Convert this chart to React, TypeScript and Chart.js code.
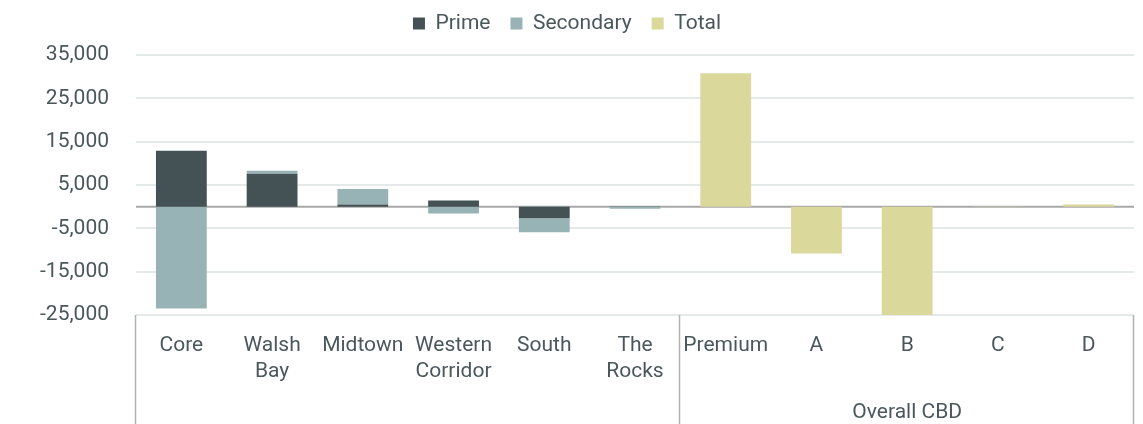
import React, { useEffect, useRef } from "react";
import { Chart, registerables } from "chart.js";

Chart.register(...registerables);

const categories: (string | string[])[] = [
  "Core",
  ["Walsh", "Bay"],
  "Midtown",
  ["Western", "Corridor"],
  "South",
  ["The", "Rocks"],
  "Premium",
  "A",
  "B",
  "C",
  "D",
];
const primeValues = [12900, 7600, 500, 1400, -2700, -100, null, null, null, null, null];
const secondaryValues = [-23500, 700, 3600, -1600, -3200, -400, null, null, null, null, null];
const totalValues = [null, null, null, null, null, null, 30800, -10800, -25800, -100, 500];
const groupLabels = [
  { label: "", from: 0, to: 5 },
  { label: "Overall CBD", from: 6, to: 10 },
];
const yTicks = { min: -25000, max: 35000, step: 10000 };

const TEXT = "#4a585b";
const FONT = "Roboto, 'Noto Sans', sans-serif";

const legendSizePlugin = {
  id: "legendSize",
  beforeInit(chart: any) {
    const legend = chart.legend;
    if (!legend) return;
    const orig = legend.fit;
    legend.fit = function () {
      orig.call(this);
      this.height += 11;
    };
  },
};

const groupPlugin = {
  id: "groupPlugin",
  beforeDatasetsDraw(chart: any) {
    const { ctx, chartArea, scales } = chart;
    const y0 = scales.y.getPixelForValue(0);
    ctx.save();
    ctx.strokeStyle = "#a9a9a9";
    ctx.lineWidth = 2;
    ctx.beginPath();
    ctx.moveTo(chartArea.left, y0);
    ctx.lineTo(chartArea.right, y0);
    ctx.stroke();
    ctx.restore();
  },
  afterDraw(chart: any) {
    const { ctx, chartArea, scales, height } = chart;
    const x = scales.x;
    const half = (x.getPixelForValue(1) - x.getPixelForValue(0)) / 2;
    ctx.save();
    ctx.strokeStyle = "#b3b3b3";
    ctx.lineWidth = 1.5;
    const bounds: number[] = [];
    groupLabels.forEach((g, i) => {
      if (i === 0) bounds.push(x.getPixelForValue(g.from) - half);
      bounds.push(x.getPixelForValue(g.to) + half);
    });
    bounds.forEach((bx) => {
      ctx.beginPath();
      ctx.moveTo(Math.round(bx) - 0.5, chartArea.bottom);
      ctx.lineTo(Math.round(bx) - 0.5, height);
      ctx.stroke();
    });
    ctx.fillStyle = TEXT;
    ctx.font = `21px ${FONT}`;
    ctx.textAlign = "center";
    ctx.textBaseline = "middle";
    groupLabels.forEach((g) => {
      if (!g.label) return;
      const cx = (x.getPixelForValue(g.from) + x.getPixelForValue(g.to)) / 2;
      ctx.fillText(g.label, cx, 413);
    });
    ctx.restore();
  },
};

export default function App() {
  const ref = useRef<HTMLCanvasElement | null>(null);
  useEffect(() => {
    if (!ref.current) return;
    const chart = new Chart(ref.current, {
      type: "bar",
      data: {
        labels: categories,
        datasets: [
          { label: "Prime", data: primeValues, backgroundColor: "#445255" },
          { label: "Secondary", data: secondaryValues, backgroundColor: "#98b3b5" },
          { label: "Total", data: totalValues, backgroundColor: "#dbd89b" },
        ],
      },
      options: {
        animation: false,
        responsive: false,
        maintainAspectRatio: false,
        layout: { padding: { right: 9, top: -7, bottom: 0, left: 0 } },
        datasets: { bar: { categoryPercentage: 0.56, barPercentage: 1 } },
        plugins: {
          tooltip: { enabled: false },
          legend: {
            position: "top",
            labels: {
              boxWidth: 12,
              boxHeight: 12,
              padding: 20,
              color: TEXT,
              font: { family: FONT, size: 21 },
            },
          },
        },
        scales: {
          x: {
            stacked: true,
            grid: { display: false, drawTicks: false },
            border: { display: false },
            ticks: {
              autoSkip: false,
              maxRotation: 0,
              padding: 17,
              color: TEXT,
              font: { family: FONT, size: 21, lineHeight: 1.27 },
            },
            afterFit(scale: any) {
              scale.height = 109;
            },
          },
          y: {
            stacked: true,
            min: yTicks.min,
            max: yTicks.max,
            border: { display: false },
            grid: { color: "#e4eaea", lineWidth: 2, drawTicks: false },
            ticks: {
              stepSize: yTicks.step,
              padding: 27,
              color: TEXT,
              font: { family: FONT, size: 21 },
              callback: (v: any) => Number(v).toLocaleString("en-US"),
            },
            afterFit(scale: any) {
              scale.width = 136;
            },
          },
        },
      },
      plugins: [legendSizePlugin, groupPlugin],
    });
    return () => chart.destroy();
  }, []);
  return (
    <div style={{ position: "absolute", left: 0, top: 0, width: 1143, height: 424, background: "#fff" }}>
      <canvas ref={ref} width={1143} height={424} style={{ width: 1143, height: 424 }} />
    </div>
  );
}
